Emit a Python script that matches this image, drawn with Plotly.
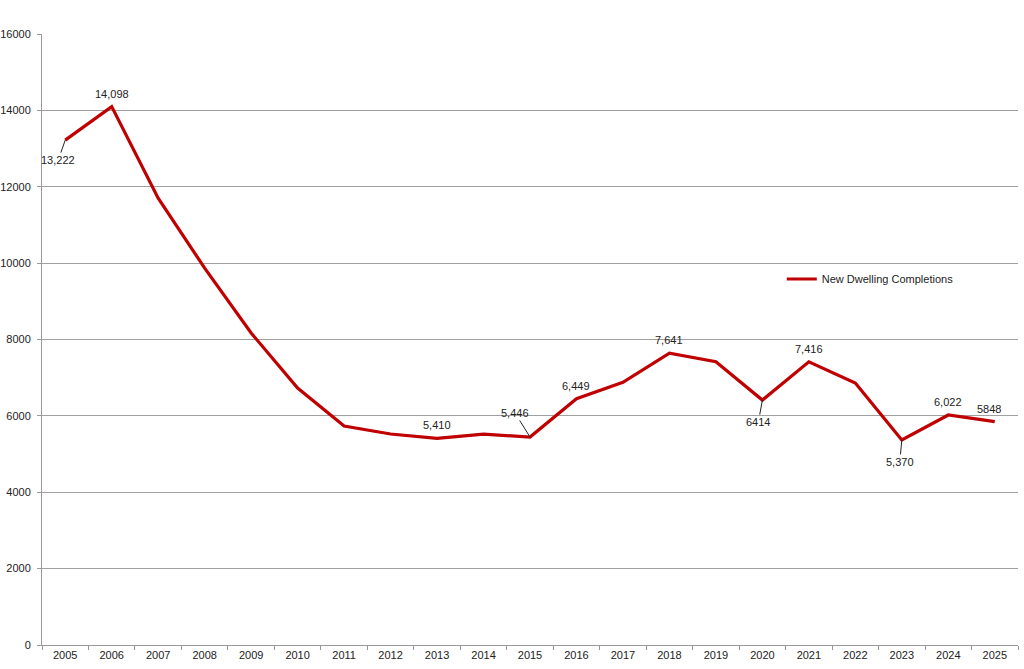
import plotly.graph_objects as go

years = [str(y) for y in range(2005, 2026)]
completions = [13222, 14098, 11700, 9870, 8170, 6730, 5735, 5525, 5410, 5520, 5446,
               6449, 6880, 7641, 7420, 6414, 7416, 6860, 5370, 6022, 5848]

# labels: (index, text, ax, ay, xshift) ; ax/ay None -> no leader line, above point
labels = [
    (0, "13,222", -7, 20, 0),
    (1, "14,098", None, None, 0),
    (8, "5,410", None, None, 0),
    (10, "5,446", -15, -24, 0),
    (11, "6,449", None, None, 0),
    (13, "7,641", None, None, 0),
    (15, "6414", -4, 22, 0),
    (16, "7,416", None, None, 0),
    (18, "5,370", -2, 22, 0),
    (19, "6,022", None, None, 0),
    (20, "5848", None, None, -6),
]

font = dict(family="Liberation Sans, Arial, sans-serif", size=11, color="#222222")

fig = go.Figure()
fig.add_trace(go.Scatter(
    x=years, y=completions, mode="lines", name="New Dwelling Completions",
    line=dict(color="#C00000", width=3.2),
))

anns = []
for i, txt, ax, ay, xs in labels:
    if ax is None:
        anns.append(dict(x=i, y=completions[i], text=txt, showarrow=False,
                         xref="x", yref="y",
                         yanchor="middle", yshift=13, xshift=xs, font=font))
    else:
        anns.append(dict(x=i, y=completions[i], text=txt, showarrow=True,
                         xref="x", yref="y",
                         arrowhead=0, arrowwidth=1, arrowcolor="#222222",
                         ax=ax, ay=ay, standoff=0, font=font))

fig.update_layout(
    width=1024, height=669,
    margin=dict(l=42, r=6, t=34, b=24, autoexpand=False),
    paper_bgcolor="white", plot_bgcolor="white",
    font=font,
    showlegend=True,
    legend=dict(x=0.758, y=0.599, xanchor="left", yanchor="middle",
                bgcolor="rgba(0,0,0,0)", font=font),
    annotations=anns,
    xaxis=dict(type="category", range=[-0.5, 20.5], tickson="boundaries",
               ticks="outside", ticklen=4, tickcolor="#999999",
               showline=True, linecolor="#999999", linewidth=1,
               showgrid=False, tickfont=font, automargin=False),
    yaxis=dict(range=[0, 16000], tick0=0, dtick=2000, tickformat="d",
               showgrid=True, gridcolor="#A0A0A0", gridwidth=1,
               showline=True, linecolor="#999999", linewidth=1,
               ticks="outside", ticklen=4, tickcolor="#999999",
               ticklabelstandoff=4, automargin=False,
               zeroline=False, tickfont=font),
)

fig.write_html("out.html")
